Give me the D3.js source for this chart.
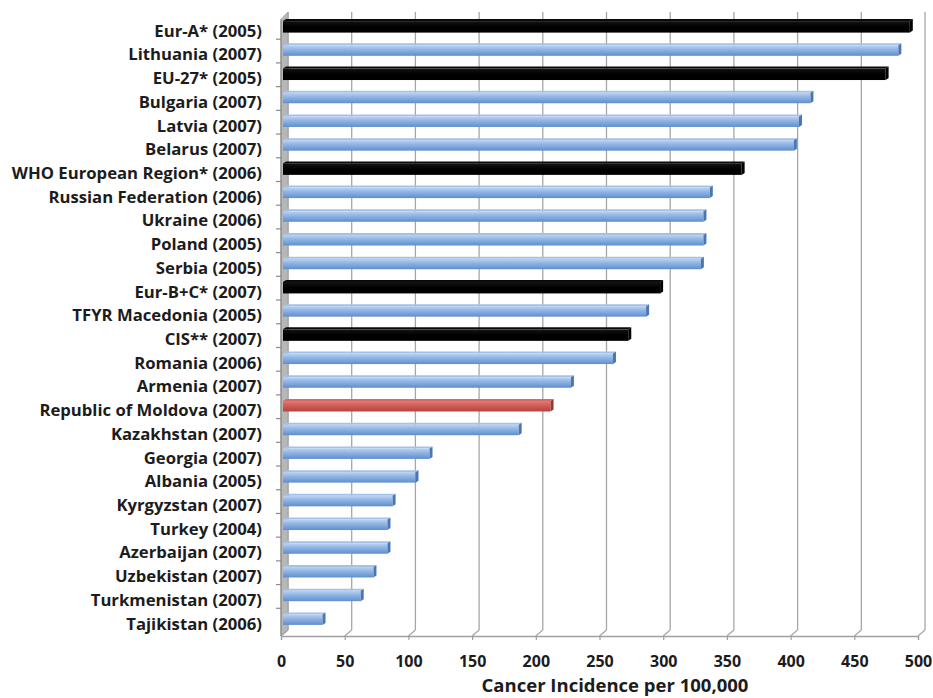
<!DOCTYPE html>
<html>
<head>
<meta charset="utf-8">
<script src="https://cdn.jsdelivr.net/npm/d3@7"></script>
<style>
  body { margin: 0; background: #fff; }
  svg text { font-family: "Open Sans", "DejaVu Sans", sans-serif; font-weight: 700; fill: #1c1c1c; }
</style>
</head>
<body>
<svg id="chart" width="933" height="698"></svg>
<script>
// Cancer incidence per 100,000 population, latest available year
const categories = [
  "Eur-A* (2005)", "Lithuania (2007)", "EU-27* (2005)", "Bulgaria (2007)",
  "Latvia (2007)", "Belarus (2007)", "WHO European Region* (2006)",
  "Russian Federation (2006)", "Ukraine (2006)", "Poland (2005)", "Serbia (2005)",
  "Eur-B+C* (2007)", "TFYR Macedonia (2005)", "CIS** (2007)", "Romania (2006)",
  "Armenia (2007)", "Republic of Moldova (2007)", "Kazakhstan (2007)",
  "Georgia (2007)", "Albania (2005)", "Kyrgyzstan (2007)", "Turkey (2004)",
  "Azerbaijan (2007)", "Uzbekistan (2007)", "Turkmenistan (2007)", "Tajikistan (2006)"
];
const values = [
  492, 483, 473, 414,
  405, 401, 360,
  335, 330, 330, 328,
  296, 285, 271, 259,
  226, 210, 185,
  115, 104, 86, 82,
  82, 71, 61, 31
];
// "group" = regional aggregate, "focus" = highlighted country, "country" = other
const kinds = [
  "group", "country", "group", "country",
  "country", "country", "group",
  "country", "country", "country", "country",
  "group", "country", "group", "country",
  "country", "focus", "country",
  "country", "country", "country", "country",
  "country", "country", "country", "country"
];
const xTicks = [0, 50, 100, 150, 200, 250, 300, 350, 400, 450, 500];
const xTitle = "Cancer Incidence per 100,000";

const svg = d3.select("#chart");

const x = d3.scaleLinear().domain([0, 500]).range([281, 918]);
const y = d3.scaleBand().domain(categories).range([19.5, 636]).padding(0);

// perspective offset of the back wall relative to the front plane
const dx = 7, dy = -6;
const floorY = 636;
const topY = 12;

const defs = svg.append("defs");
function grad(id, stops) {
  const g = defs.append("linearGradient").attr("id", id)
    .attr("x1", 0).attr("y1", 0).attr("x2", 0).attr("y2", 1);
  stops.forEach(([o, c]) => g.append("stop").attr("offset", o).attr("stop-color", c));
}
grad("g-country", [[0, "#bcd3f1"], [0.35, "#95b9e5"], [1, "#5f8ecf"]]);
grad("g-group", [[0, "#141414"], [0.5, "#000000"], [1, "#000000"]]);
grad("g-focus", [[0, "#e27a75"], [0.45, "#cf5c57"], [1, "#b7423e"]]);
const topColor = { country: "#a3c1ea", group: "#0a0a0a", focus: "#d86a65" };
const capColor = { country: "#4a77b3", group: "#000000", focus: "#983632" };

// back-wall gridlines
svg.append("g").selectAll("line").data(xTicks).join("line")
  .attr("x1", d => x(d) + dx).attr("x2", d => x(d) + dx)
  .attr("y1", floorY + dy).attr("y2", topY)
  .attr("stroke", "#a6a6a6").attr("stroke-width", 1.3);

// floor: slanted lines from each front tick to the back wall
svg.append("g").selectAll("line").data(xTicks).join("line")
  .attr("x1", d => x(d)).attr("y1", floorY)
  .attr("x2", d => x(d) + dx).attr("y2", floorY + dy)
  .attr("stroke", "#a6a6a6").attr("stroke-width", 1.2);

// left side wall
svg.append("path")
  .attr("d", `M${x(0)},${y.range()[0]} L${x(0) + dx},${topY} L${x(0) + dx},${floorY + dy} L${x(0)},${floorY} Z`)
  .attr("fill", "#b7b7b7").attr("stroke", "#9a9a9a").attr("stroke-width", 0.8);

// bars (front face, top face and end cap)
const bars = svg.append("g").selectAll("g").data(categories).join("g");
const bd = 3;
bars.each(function (c, i) {
  const g = d3.select(this);
  const k = kinds[i];
  const bh = k === "group" ? 11.5 : 10.5;
  const cy = y(c) + y.bandwidth() / 2 - 4.5;
  const x0 = x(0) + 2;
  const x1 = x(values[i]) + 2;
  const t = cy - bh / 2, b = cy + bh / 2;
  g.append("path")
    .attr("d", `M${x0},${t} L${x0 + bd},${t - 2} L${x1 + bd},${t - 2} L${x1},${t} Z`)
    .attr("fill", topColor[k]);
  g.append("rect")
    .attr("x", x0).attr("y", t)
    .attr("width", x1 - x0).attr("height", bh)
    .attr("fill", `url(#g-${k})`);
  g.append("path")
    .attr("d", `M${x1},${t} L${x1 + bd},${t - 2} L${x1 + bd},${b - 2} L${x1},${b} Z`)
    .attr("fill", capColor[k]);
});

// front floor edge and x axis
const xAxis = svg.append("g")
  .attr("transform", `translate(0,${floorY})`)
  .call(d3.axisBottom(x).tickValues(xTicks).tickSize(4).tickPadding(16));
xAxis.select(".domain").attr("stroke", "#a0a0a0").attr("stroke-width", 1.3);
xAxis.selectAll(".tick line").attr("stroke", "#a0a0a0").attr("stroke-width", 1.2);
xAxis.selectAll(".tick text").style("font-size", "16px").attr("fill", "#1c1c1c");

// category axis
const yAxis = svg.append("g")
  .attr("transform", `translate(${x(0)},0)`)
  .call(d3.axisLeft(y).tickSize(0).tickPadding(19));
yAxis.select(".domain").remove();
yAxis.selectAll(".tick text").style("font-size", "16.7px").attr("fill", "#1c1c1c");

svg.append("line")
  .attr("x1", x(0)).attr("x2", x(0))
  .attr("y1", y.range()[0]).attr("y2", floorY)
  .attr("stroke", "#8c8c8c").attr("stroke-width", 1.2);

const boundaries = d3.range(1, categories.length).map(i => y.range()[0] + i * y.step() - 4);
svg.append("g").selectAll("line").data(boundaries).join("line")
  .attr("x1", x(0) - 5).attr("x2", x(0))
  .attr("y1", d => d).attr("y2", d => d)
  .attr("stroke", "#8c8c8c").attr("stroke-width", 1.2);

// axis title
svg.append("text")
  .attr("x", 615).attr("y", 692)
  .attr("text-anchor", "middle")
  .style("font-size", "18.5px")
  .text(xTitle);
</script>
</body>
</html>
